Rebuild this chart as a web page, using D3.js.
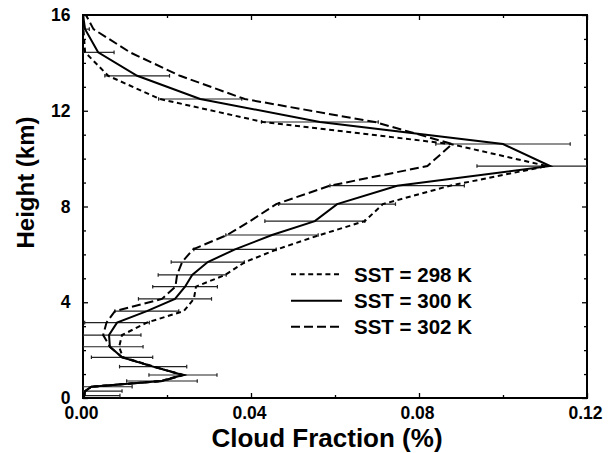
<!DOCTYPE html>
<html>
<head>
<meta charset="utf-8">
<script src="https://cdn.jsdelivr.net/npm/d3@7"></script>
<style>
  html, body { margin: 0; padding: 0; background: #fff; }
  svg { display: block; font-family: "Liberation Sans", Arial, Helvetica, sans-serif; font-weight: bold; }
</style>
</head>
<body>
<svg id="chart" width="611" height="453"></svg>
<script>
// Model levels (km)
const heights = [0, 0.10, 0.29, 0.47, 0.71, 0.96, 1.31, 1.70, 2.14, 2.63, 3.15, 3.63, 4.14, 4.65,
  5.14, 5.68, 6.21, 6.81, 7.39, 8.10, 8.87, 9.69, 10.61, 11.53, 12.49, 13.46, 14.44, 15.41, 16.0];

// Cloud fraction profiles for each sea surface temperature
const sst298 = [0, 0.0003, 0.0005, 0.0020, 0.0185, 0.0235, 0.0170, 0.0095, 0.0086, 0.0093, 0.0152, 0.0240, 0.0264, 0.0269,
  0.0338, 0.0386, 0.0462, 0.0564, 0.0671, 0.0714, 0.0874, 0.1105, 0.0875, 0.0429, 0.0183, 0.0060, 0.0005, 0.0001, 0];
const sst300 = [0, 0.0003, 0.0005, 0.0020, 0.0188, 0.0238, 0.0167, 0.0093, 0.0064, 0.0062, 0.0081, 0.0152, 0.0219, 0.0243,
  0.0260, 0.0297, 0.0362, 0.0450, 0.0552, 0.0605, 0.0748, 0.1112, 0.1000, 0.0564, 0.0279, 0.0129, 0.0036, 0.0005, 0];
const sst302 = [0, 0.0003, 0.0005, 0.0020, 0.0190, 0.0240, 0.0167, 0.0093, 0.0064, 0.0048, 0.0056, 0.0076, 0.0188, 0.0220,
  0.0224, 0.0236, 0.0262, 0.0343, 0.0398, 0.0460, 0.0588, 0.0820, 0.0879, 0.0695, 0.0385, 0.0231, 0.0112, 0.0025, 0.0007];

// Standard deviation of the 300 K profile (drawn as horizontal error bars)
const sd300 = [0, 0.0085, 0.0088, 0.0097, 0.0084, 0.0081, 0.0080, 0.0073, 0.0079, 0.0076, 0.0077, 0.0076, 0.0087, 0.0077,
  0.0081, 0.0087, 0.0098, 0.0110, 0.0119, 0.0139, 0.0160, 0.0174, 0.0160, 0.0139, 0.0099, 0.0077, 0.0038, 0.0010, 0];

const xMajorTicks = [0, 0.04, 0.08, 0.12];
const xMinorTicks = [0.02, 0.06, 0.10];
const yMajorTicks = [0, 4, 8, 12, 16];
const yMinorTicks = [1, 2, 3, 5, 6, 7, 9, 10, 11, 13, 14, 15];

const seriesNames = ["SST = 298 K", "SST = 300 K", "SST = 302 K"];
const seriesDash = ["5,3.6", null, "9,4"];

const svg = d3.select("#chart");
const pLeft = 83, pRight = 587, pTop = 15, pBottom = 398;

const x = d3.scaleLinear().domain([0, 0.12]).range([pLeft, pRight]);
const y = d3.scaleLinear().domain([0, 16]).range([pBottom, pTop]);

svg.append("defs").append("clipPath").attr("id", "plotClip")
  .append("rect").attr("x", pLeft).attr("y", pTop - 1).attr("width", pRight - pLeft).attr("height", pBottom - pTop + 2);

// Axes with inward ticks on all four sides
function styleAxis(g) {
  g.select(".domain").remove();
  g.selectAll(".tick line").attr("stroke", "#000").attr("stroke-width", 1.3);
}
function styleLabels(g) {
  g.selectAll("text").attr("font-size", 17.5).attr("font-weight", "bold")
    .attr("font-family", "Liberation Sans, Arial, sans-serif").attr("fill", "#000");
}
svg.append("g").attr("transform", `translate(0,${pBottom})`)
  .call(d3.axisBottom(x).tickValues(xMajorTicks).tickSize(-5).tickPadding(9).tickFormat(d3.format(".2f")))
  .call(styleAxis).call(styleLabels)
  .call(g => g.selectAll("text").attr("dx", -2));
svg.append("g").attr("transform", `translate(0,${pBottom})`)
  .call(d3.axisBottom(x).tickValues(xMinorTicks).tickSize(-3).tickFormat(""))
  .call(styleAxis);
svg.append("g").attr("transform", `translate(0,${pTop})`)
  .call(d3.axisTop(x).tickValues(xMajorTicks).tickSize(-5).tickFormat(""))
  .call(styleAxis);
svg.append("g").attr("transform", `translate(0,${pTop})`)
  .call(d3.axisTop(x).tickValues(xMinorTicks).tickSize(-3).tickFormat(""))
  .call(styleAxis);
svg.append("g").attr("transform", `translate(${pLeft},0)`)
  .call(d3.axisLeft(y).tickValues(yMajorTicks).tickSize(-5).tickPadding(12.5).tickFormat(d3.format("d")))
  .call(styleAxis).call(styleLabels);
svg.append("g").attr("transform", `translate(${pLeft},0)`)
  .call(d3.axisLeft(y).tickValues(yMinorTicks).tickSize(-3).tickFormat(""))
  .call(styleAxis);
svg.append("g").attr("transform", `translate(${pRight},0)`)
  .call(d3.axisRight(y).tickValues(yMajorTicks).tickSize(-5).tickFormat(""))
  .call(styleAxis);
svg.append("g").attr("transform", `translate(${pRight},0)`)
  .call(d3.axisRight(y).tickValues(yMinorTicks).tickSize(-3).tickFormat(""))
  .call(styleAxis);

// Plot frame
svg.append("rect").attr("x", pLeft).attr("y", pTop).attr("width", pRight - pLeft).attr("height", pBottom - pTop)
  .attr("fill", "none").attr("stroke", "#000").attr("stroke-width", 2);

const plot = svg.append("g").attr("clip-path", "url(#plotClip)");

// Error bars for the 300 K profile
const bars = heights.map((h, i) => ({ h, v: sst300[i], s: sd300[i] })).filter(d => d.s > 0);
const barG = plot.append("g").attr("stroke", "#222").attr("stroke-width", 1.2);
bars.forEach(d => {
  const x0 = x(Math.max(0, d.v - d.s)), x1 = x(Math.min(0.12, d.v + d.s)), yy = y(d.h);
  barG.append("line").attr("x1", x0).attr("x2", x1).attr("y1", yy).attr("y2", yy);
  barG.append("line").attr("x1", x0).attr("x2", x0).attr("y1", yy - 1.8).attr("y2", yy + 1.8);
  barG.append("line").attr("x1", x1).attr("x2", x1).attr("y1", yy - 1.8).attr("y2", yy + 1.8);
});

// Profiles
const line = d3.line().x(d => x(d[0])).y(d => y(d[1]));
[sst298, sst300, sst302].forEach((vals, k) => {
  plot.append("path")
    .datum(vals.map((v, i) => [v, heights[i]]))
    .attr("d", line)
    .attr("fill", "none")
    .attr("stroke", "#000")
    .attr("stroke-width", 2)
    .attr("stroke-dasharray", seriesDash[k]);
});

// Legend
const legendRows = [274.3, 300.7, 326.7];
seriesNames.forEach((name, k) => {
  svg.append("line").attr("x1", 291).attr("x2", 342).attr("y1", legendRows[k]).attr("y2", legendRows[k])
    .attr("stroke", "#000").attr("stroke-width", 2).attr("stroke-dasharray", seriesDash[k]);
  svg.append("text").attr("x", 354).attr("y", legendRows[k] + 7.3)
    .attr("font-size", 20.5).attr("fill", "#000").text(name);
});

// Axis titles
svg.append("text").attr("x", 327).attr("y", 447).attr("text-anchor", "middle")
  .attr("font-size", 26).attr("fill", "#000").text("Cloud Fraction (%)");
svg.append("text").attr("transform", "translate(34,182.5) rotate(-90)").attr("text-anchor", "middle")
  .attr("font-size", 24).attr("fill", "#000").text("Height (km)");
</script>
</body>
</html>
